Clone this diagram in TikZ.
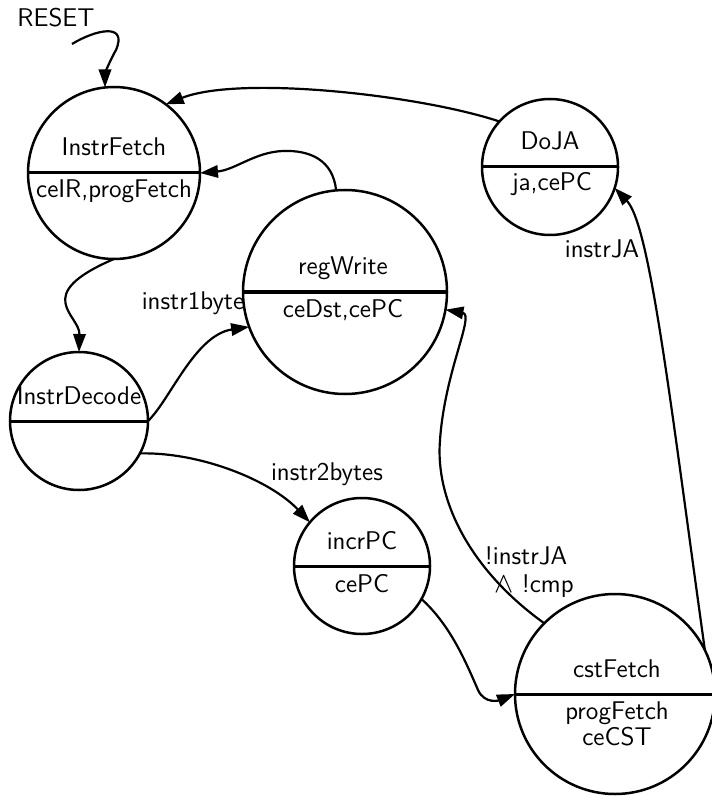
\documentclass[tikz,border=0pt]{standalone}
\usepackage{fontspec}
\usepackage{tikz}
\usetikzlibrary{arrows.meta,positioning,calc}
\tikzset{
  state/.style={circle,draw=black,line width=1.25pt,inner sep=0pt,outer sep=0pt,
                minimum size=#1},
  state/.default=68pt,
  edge/.style={-{Triangle[length=9pt,width=6.2pt]},line width=1.1pt},
}
\begin{document}
\begin{tikzpicture}[x=0.5pt,y=-0.5pt,
        sep/.style={line width=1.5pt},
        txt/.style={font=\sffamily\fontsize{12.8}{12.8}\selectfont,anchor=base,
                    inner sep=0pt,align=center},
      ]
        \useasboundingbox (0,0) rectangle (711,796);

        % ── States
        \node[state=86pt]  (fetch)  at (114,173) {};
        \node[state=68pt]  (doja)   at (550,167) {};
        \node[state=102pt] (regw)   at (345,292) {};
        \node[state=69pt]  (decode) at (79,421)  {};
        \node[state=68pt]  (incr)   at (362,566) {};
        \node[state=100pt] (cst)    at (615,694) {};

        % ── Dividers
        \draw[sep] (fetch.west)--(fetch.east);
        \draw[sep] (doja.west)--(doja.east);
        \draw[sep] (regw.west)--(regw.east);
        \draw[sep] (decode.west)--(decode.east);
        \draw[sep] (incr.west)--(incr.east);
        \draw[sep] (cst.west)--(cst.east);

        % ── State texts
        \node[txt] (fetchT)  at (114,156) {InstrFetch};
        \node[txt] (fetchB)  at (114,198) {ceIR,progFetch};
        \node[txt] (dojaT)   at (550,150) {DoJA};
        \node[txt] (dojaB)   at (552,191) {ja,cePC};
        \node[txt] (regwT)   at (343,275) {regWrite};
        \node[txt] (regwB)   at (343,317) {ceDst,cePC};
        \node[txt] (decodeT) at (79,404)  {InstrDecode};
        \node[txt] (incrT)   at (362,549) {incrPC};
        \node[txt] (incrB)   at (362,592) {cePC};
        \node[txt] (cstT)    at (617,677) {cstFetch};
        \node[txt,anchor=center] (cstB) at (617,724) {progFetch\\ceCST};

        % ── Edge labels
        \node[txt] (reset) at (56,27)   {RESET};
        \node[txt] (lbl1)  at (193,309) {instr1byte};
        \node[txt] (lbl2)  at (327,480) {instr2bytes};
        \node[txt] (lbl3)  at (602,258) {instrJA};
        \node[txt,font=\sffamily\fontsize{12.8}{13.6}\selectfont,anchor=center]
          (lbl4) at (526,572) {!instrJA\\\hspace{8pt}{\fontsize{15}{13.6}\selectfont$\wedge$} !cmp};

        % ── Transitions
        \coordinate (rst) at (72,44);
        \draw[edge] (rst) .. controls (95,30) and (128,22) .. (116,50)
                          .. controls (108,64) and (105,75) .. (fetch.96);
        \draw[edge] (doja.138) .. controls (420,95) and (240,75) .. (fetch.53);
        \draw[edge] (regw.95) .. controls (333,160) and (310,150) .. (283,151)
                              .. controls (255,152) and (235,170) .. (fetch.east);
        \draw[edge] (fetch.south) .. controls (30,295) and (80,315) .. (decode.north);
        \draw[edge] (decode.east) .. controls (170,400) and (195,335) .. (regw.200);
        \draw[edge] (decode.332) .. controls (200,452) and (270,480) .. (incr.140);
        \draw[edge] (incr.331) .. controls (450,625) and (465,660) .. (478,690)
                               .. controls (485,705) and (500,700) .. (cst.west);
        \draw[edge] (cst.135) .. controls (470,570) and (435,500) .. (440,440)
                              .. controls (445,370) and (475,315) .. (regw.350);
        \draw[edge] (cst.26) .. controls (670,400) and (650,225) .. (doja.-18);
      \end{tikzpicture}
\end{document}
